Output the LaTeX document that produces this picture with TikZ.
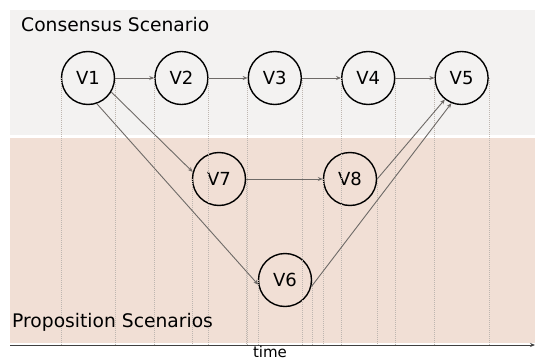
\documentclass[tikz,border=0pt]{standalone}
\usepackage{fontspec}
\setmainfont{DejaVu Sans}
\usetikzlibrary{positioning, arrows.meta}
\definecolor{consbg}{RGB}{243,242,241}
\definecolor{propbg}{RGB}{241,223,213}
\definecolor{edgegray}{RGB}{110,106,103}
\definecolor{guidegray}{RGB}{190,182,176}
\tikzset{
  vertex/.style = {draw, circle, line width=1.4pt, minimum size=53pt, inner sep=0pt, font=\fontsize{18}{20}\selectfont},
  arrow/.style  = {-{Stealth[length=5pt, width=4pt]}, edgegray, line width=0.9pt},
  guide/.style  = {guidegray, line width=0.6pt, dash pattern=on 1pt off 1pt},
  caption/.style = {inner sep=0pt, font=\fontsize{18.7}{21}\selectfont}
}

\begin{document}
\begin{tikzpicture}[x=1pt, y=-1pt]
  \useasboundingbox (0,0) rectangle (535,361);
  % scenario bands
  \fill[consbg] (10,10) rectangle (535,135);
  \fill[propbg] (10,138) rectangle (535,343);
  \coordinate (t0) at (10,345);
  \coordinate (t1) at (535,345);

  \node[vertex] at (88,78)            (v1) {V1};
  \node[vertex, right=39pt of v1]     (v2) {V2};
  \node[vertex, right=39pt of v2]     (v3) {V3};
  \node[vertex, right=39pt of v3]     (v4) {V4};
  \node[vertex, right=39pt of v4]     (v5) {V5};
  \node[vertex] at (219,179)          (v7) {V7};
  \node[vertex] at (350,179)          (v8) {V8};
  \node[vertex] at (285,280)          (v6) {V6};

  % time guides
  \foreach \v in {v1, v2, v3, v4, v5, v6, v7, v8} {
    \draw[guide] (\v.west) -- (\v.west |- t0);
    \draw[guide] (\v.east) -- (\v.east |- t0);
  }

  \draw[arrow] (v1) -- (v2);
  \draw[arrow] (v2) -- (v3);
  \draw[arrow] (v3) -- (v4);
  \draw[arrow] (v4) -- (v5);
  \draw[arrow] (v1.-31) -- (v7.165);
  \draw[arrow] (v1.-71) -- (v6.-170);
  \draw[arrow] (v7) -- (v8);
  \draw[arrow] (v8.east) -- (v5.-128);
  \draw[arrow] (v6.-14) -- (v5.-112);

  \draw[-{Stealth[length=5pt, width=4pt]}, black!75, line width=0.9pt] (t0) -- (t1);

  \node[caption, anchor=base west] at (21,32)  (cons) {Consensus Scenario};
  \node[caption, anchor=base west] at (12,327) (prop) {Proposition Scenarios};
  \node[caption, anchor=base, font=\fontsize{15}{17}\selectfont] at (270,357) (time) {time};
\end{tikzpicture}
\end{document}
